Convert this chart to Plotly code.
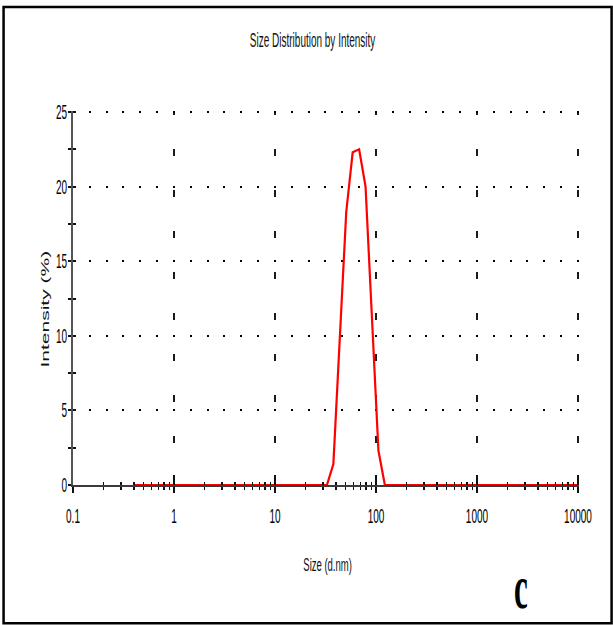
import plotly.graph_objects as go

# Size classes (d.nm) of the intensity distribution
size_nm = [
    0.4, 0.4632, 0.5365, 0.6213, 0.7195, 0.8332, 0.9649, 1.117, 1.294, 1.499,
    1.736, 2.01, 2.328, 2.696, 3.122, 3.615, 4.187, 4.849, 5.615, 6.503,
    7.531, 8.721, 10.1, 11.7, 13.54, 15.69, 18.17, 21.04, 24.36, 28.21,
    32.67, 37.84, 43.82, 50.75, 58.77, 68.06, 78.82, 91.28, 105.7, 122.4,
    141.8, 164.2, 190.1, 220.2, 255.0, 295.3, 342.0, 396.1, 458.7, 531.2,
    615.1, 712.4, 825.0, 955.4, 1106, 1281, 1484, 1718, 1990, 2305,
    2669, 3091, 3580, 4145, 4801, 5560, 6439, 7456, 8635, 10000,
]

# Intensity (%) per size class
intensity_pct = [
    0, 0, 0, 0, 0, 0, 0, 0, 0, 0,
    0, 0, 0, 0, 0, 0, 0, 0, 0, 0,
    0, 0, 0, 0, 0, 0, 0, 0, 0, 0,
    0, 1.4, 9.8, 18.3, 22.3, 22.5, 20.0, 11.5, 2.3, 0,
    0, 0, 0, 0, 0, 0, 0, 0, 0, 0,
    0, 0, 0, 0, 0, 0, 0, 0, 0, 0,
    0, 0, 0, 0, 0, 0, 0, 0, 0, 0,
]

# Axis ticks
x_major = [0.1, 1, 10, 100, 1000, 10000]
x_major_text = ["0.1", "1", "10", "100", "1000", "10000"]
x_minor = [m * d for d in [0.1, 1, 10, 100, 1000] for m in range(2, 10)]
y_major = [0, 5, 10, 15, 20, 25]
y_minor = [2.5, 7.5, 12.5, 17.5, 22.5]

X_RANGE = [-1, 4.01]
Y_RANGE = [0, 25.07]

SANS = "Liberation Sans"
INK = "#111111"

fig = go.Figure()
# the main subplot carries the grid, axis lines and labels
fig.add_trace(go.Scatter(
    x=size_nm, y=intensity_pct, mode="lines", opacity=0,
    xaxis="x", yaxis="y", hoverinfo="skip", showlegend=False,
))
# the distribution curve sits on the overlay so it covers the baseline
fig.add_trace(go.Scatter(
    x=size_nm, y=intensity_pct, mode="lines",
    line=dict(color="#ff0000", width=2.2),
    xaxis="x2", yaxis="y2", hoverinfo="skip", showlegend=False,
))

fig.update_layout(
    width=613, height=625, autosize=False,
    margin=dict(l=73, r=34, t=111, b=140),
    paper_bgcolor="white", plot_bgcolor="white",
    showlegend=False,
    xaxis=dict(
        type="log", range=X_RANGE, fixedrange=True,
        tickmode="array", tickvals=x_major, ticktext=x_major_text,
        ticks="outside", ticklen=6, tickwidth=1.5, tickcolor=INK,
        tickfont=dict(family=SANS, size=20, color="black"),
        ticklabelstandoff=6,
        showline=True, linecolor="#3a3a3a", linewidth=2,
        showgrid=True, gridcolor="#1a1a1a", gridwidth=1.2,
        griddash="3.5px,34px,3.5px,0px",
        minor=dict(tickmode="array", tickvals=x_minor, ticks="outside",
                   ticklen=3, tickwidth=1.5, tickcolor=INK, showgrid=False),
        zeroline=False, automargin=False,
    ),
    xaxis2=dict(
        type="log", range=X_RANGE, fixedrange=True,
        overlaying="x", anchor="y2", side="bottom",
        tickmode="array", tickvals=x_major, showticklabels=False,
        ticks="inside", ticklen=10, tickwidth=1.5, tickcolor=INK,
        minor=dict(tickmode="array", tickvals=x_minor, ticks="inside",
                   ticklen=3, tickwidth=1.5, tickcolor=INK, showgrid=False),
        showline=False, showgrid=False, zeroline=False, layer="above traces",
        automargin=False,
    ),
    yaxis=dict(
        range=Y_RANGE, fixedrange=True,
        tickmode="array", tickvals=y_major,
        ticks="outside", ticklen=3, tickwidth=2, tickcolor=INK,
        tickfont=dict(family=SANS, size=20, color="black"),
        ticklabelstandoff=-3,
        showline=True, linecolor="#555555", linewidth=2,
        showgrid=True, gridcolor="black", gridwidth=2,
        griddash="1px,14.83px,1px,0px",
        minor=dict(tickmode="array", tickvals=y_minor, ticks="outside",
                   ticklen=3, tickwidth=2, tickcolor=INK, showgrid=False),
        zeroline=False, automargin=False,
    ),
    yaxis2=dict(
        range=Y_RANGE, fixedrange=True,
        overlaying="y", anchor="x2", side="left",
        tickmode="array", tickvals=y_major, showticklabels=False,
        ticks="inside", ticklen=3, tickwidth=2, tickcolor=INK,
        minor=dict(tickmode="array", tickvals=y_minor, ticks="inside",
                   ticklen=3, tickwidth=2, tickcolor=INK, showgrid=False),
        showline=False, showgrid=False, zeroline=False, layer="above traces",
        automargin=False,
    ),
    annotations=[
        dict(text="Size Distribution by Intensity", xref="paper", yref="paper",
             x=0.4743, y=1.1903, xanchor="center", yanchor="middle",
             showarrow=False, font=dict(family=SANS, size=20, color="#111")),
        dict(text="Size (d.nm)", xref="paper", yref="paper",
             x=0.502, y=-0.2118, xanchor="center", yanchor="middle",
             showarrow=False, font=dict(family=SANS, size=19, color="#111")),
        dict(text="Intensity (%)", xref="paper", yref="paper",
             x=-0.0554, y=0.4718, xanchor="center", yanchor="middle",
             textangle=-90, showarrow=False,
             font=dict(family=SANS, size=21, color="#111")),
        dict(text="<b>c</b>", xref="paper", yref="paper",
             x=0.885, y=-0.2735, xanchor="center", yanchor="middle",
             showarrow=False,
             font=dict(family="Liberation Serif", size=62, color="black")),
    ],
    shapes=[
        dict(type="rect", xref="paper", yref="paper",
             x0=-0.1372, x1=1.0644, y0=-0.3694, y1=1.278,
             line=dict(color="black", width=2.5), fillcolor="rgba(0,0,0,0)",
             layer="above"),
    ],
)

# Narrow the lettering horizontally so it keeps the tall, condensed look
squeeze_text = """
var gd = document.getElementById('{plot_id}');
gd.querySelectorAll('svg.main-svg text').forEach(function (t) {
  var label = (t.textContent || '').trim();
  if (!label) return;
  var r = t.getBoundingClientRect();
  if (!r.width) return;
  var svg = t.ownerSVGElement;
  var k = 0.5;
  var C = t.getScreenCTM();
  var rotated = Math.abs(C.b) > 0.5;
  var anchor = t.getAttribute('text-anchor') || 'start';
  var cx = r.left + r.width / 2;
  if (!rotated && anchor === 'end') cx = r.right;
  if (!rotated && anchor === 'start') cx = r.left;
  var P = t.parentNode.getScreenCTM();
  var base = t.transform.baseVal.consolidate();
  var L = base ? base.matrix : svg.createSVGMatrix();
  var M = svg.createSVGMatrix();
  M.a = k; M.b = 0; M.c = 0; M.d = 1; M.e = cx * (1 - k); M.f = 0;
  var N = P.inverse().multiply(M).multiply(P).multiply(L);
  t.transform.baseVal.initialize(svg.createSVGTransformFromMatrix(N));
});
"""

fig.write_html("out.html",
               config=dict(displayModeBar=False, staticPlot=True, responsive=False),
               post_script=squeeze_text)
